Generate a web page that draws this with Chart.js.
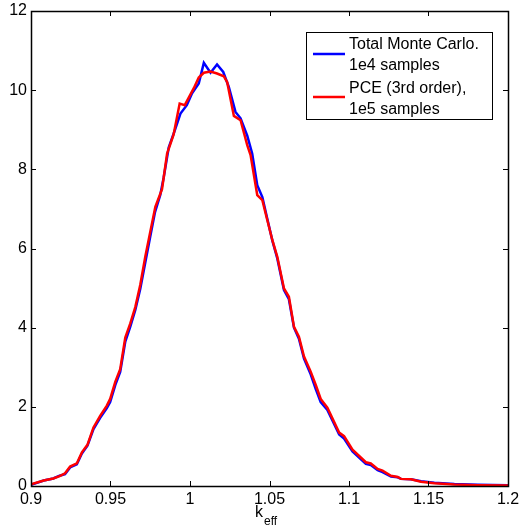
<!DOCTYPE html>
<html>
<head>
<meta charset="utf-8">
<script src="https://cdn.jsdelivr.net/npm/chart.js@4.4.0/dist/chart.umd.min.js"></script>
<style>
  html, body { margin: 0; padding: 0; background: #fff; }
  #wrap { width: 519px; height: 529px; }
</style>
</head>
<body>
<div id="wrap"><canvas id="myChart" width="519" height="529"></canvas></div>
<script>
// Total Monte Carlo, 1e4 samples
const mcX = [0.900, 0.908, 0.914, 0.918, 0.9214, 0.9246, 0.9288, 0.932, 0.9355, 0.9393,
  0.9435, 0.9477, 0.9498, 0.953, 0.9561, 0.9593, 0.9624, 0.9656, 0.9687, 0.9719,
  0.975, 0.978, 0.9813, 0.9834, 0.9866, 0.9897, 0.994, 0.998, 1.0013, 1.0055,
  1.0087, 1.0129, 1.017, 1.0209, 1.0244, 1.0286, 1.0318, 1.036, 1.0391, 1.0423,
  1.0455, 1.0486, 1.0518, 1.0549, 1.0591, 1.0622, 1.0654, 1.0685, 1.0717, 1.0759,
  1.0791, 1.0822, 1.0864, 1.0938, 1.0969, 1.1022, 1.1106, 1.1137, 1.118, 1.1211,
  1.1264, 1.1306, 1.1327, 1.139, 1.1453, 1.1537, 1.1663, 1.181, 1.200];
const mcY = [0.03, 0.14, 0.19, 0.26, 0.30, 0.47, 0.55, 0.82, 1.02, 1.44,
  1.72, 1.97, 2.12, 2.55, 2.88, 3.65, 4.02, 4.45, 4.98, 5.65,
  6.30, 6.92, 7.35, 7.78, 8.55, 8.90, 9.41, 9.62, 9.92, 10.17,
  10.69, 10.44, 10.65, 10.46, 10.08, 9.45, 9.29, 8.85, 8.40, 7.60,
  7.30, 6.75, 6.20, 5.75, 4.95, 4.72, 4.00, 3.72, 3.22, 2.82,
  2.45, 2.12, 1.92, 1.30, 1.20, 0.87, 0.56, 0.53, 0.40, 0.35,
  0.24, 0.22, 0.18, 0.17, 0.12, 0.08, 0.05, 0.03, 0.02];

// PCE (3rd order), 1e5 samples
const pceX = [0.900, 0.908, 0.914, 0.918, 0.9214, 0.9246, 0.9288, 0.932, 0.9355, 0.9393,
  0.9435, 0.9477, 0.9498, 0.953, 0.9561, 0.9593, 0.9624, 0.9656, 0.9687, 0.9719,
  0.975, 0.9782, 0.9824, 0.9856, 0.9897, 0.9935, 0.9967, 1.0024, 1.0055, 1.0087,
  1.0129, 1.017, 1.0213, 1.0234, 1.0276, 1.0318, 1.036, 1.0381, 1.0423, 1.0455,
  1.0486, 1.0518, 1.0549, 1.0591, 1.0622, 1.0654, 1.0685, 1.0717, 1.0759, 1.0791,
  1.0822, 1.0864, 1.0938, 1.0969, 1.1022, 1.1106, 1.1137, 1.118, 1.1211, 1.1264,
  1.1306, 1.1327, 1.139, 1.1453, 1.1537, 1.1663, 1.181, 1.200];
const pceY = [0.04, 0.14, 0.19, 0.25, 0.32, 0.49, 0.57, 0.85, 1.04, 1.48,
  1.77, 2.03, 2.20, 2.63, 2.95, 3.75, 4.10, 4.52, 5.08, 5.80,
  6.42, 7.05, 7.50, 8.40, 8.88, 9.66, 9.62, 10.05, 10.32, 10.44,
  10.47, 10.42, 10.35, 10.20, 9.35, 9.24, 8.61, 8.36, 7.35, 7.22,
  6.72, 6.21, 5.79, 4.99, 4.78, 4.02, 3.77, 3.27, 2.89, 2.55,
  2.20, 1.98, 1.35, 1.26, 0.92, 0.60, 0.57, 0.43, 0.39, 0.26,
  0.23, 0.18, 0.17, 0.11, 0.07, 0.04, 0.02, 0.01];

const xTicks = [0.9, 0.95, 1, 1.05, 1.1, 1.15, 1.2];
const yTicks = [0, 2, 4, 6, 8, 10, 12];
const legendLabels = [['Total Monte Carlo.', '1e4 samples'], ['PCE (3rd order),', '1e5 samples']];

const FONT = '"Liberation Sans", Arial, Helvetica, sans-serif';

function pts(xs, ys) {
  return xs.map((x, i) => ({ x: x, y: ys[i] }));
}

// box, inward ticks, legend and axis title (matlab look)
const decor = {
  id: 'decor',
  afterDraw(chart) {
    const ctx = chart.ctx;
    const a = chart.chartArea;
    const sx = chart.scales.x, sy = chart.scales.y;
    ctx.save();
    ctx.strokeStyle = '#000';
    ctx.lineWidth = 1;
    ctx.beginPath();
    xTicks.forEach(v => {
      const px = Math.round(sx.getPixelForValue(v)) + 0.5;
      ctx.moveTo(px, a.bottom); ctx.lineTo(px, a.bottom - 5);
      ctx.moveTo(px, a.top); ctx.lineTo(px, a.top + 5);
    });
    yTicks.forEach(v => {
      const py = Math.round(sy.getPixelForValue(v)) + 0.5;
      ctx.moveTo(a.left, py); ctx.lineTo(a.left + 5, py);
      ctx.moveTo(a.right, py); ctx.lineTo(a.right - 5, py);
    });
    ctx.stroke();
    ctx.lineWidth = 1.5;
    ctx.strokeRect(Math.round(a.left) + 0.5, Math.round(a.top) + 0.5,
      Math.round(a.right - a.left), Math.round(a.bottom - a.top));

    // legend
    const lx = 306, ly = 32, lw = 186, lh = 87;
    ctx.fillStyle = '#fff';
    ctx.fillRect(lx, ly, lw, lh);
    ctx.lineWidth = 1;
    ctx.strokeRect(lx + 0.5, ly + 0.5, lw, lh);
    ctx.font = '16px ' + FONT;
    ctx.textBaseline = 'middle';
    ctx.textAlign = 'left';
    const rows = [[45, 66, 54], [89, 110, 97]];
    chart.data.datasets.forEach((ds, i) => {
      ctx.strokeStyle = ds.borderColor;
      ctx.lineWidth = 2.5;
      ctx.beginPath();
      ctx.moveTo(313, rows[i][2]); ctx.lineTo(345, rows[i][2]);
      ctx.stroke();
      ctx.fillStyle = '#000';
      ctx.fillText(legendLabels[i][0], 349, rows[i][0]);
      ctx.fillText(legendLabels[i][1], 349, rows[i][1]);
    });

    // x axis title k_eff
    ctx.fillStyle = '#000';
    ctx.textBaseline = 'alphabetic';
    ctx.font = '16px ' + FONT;
    ctx.fillText('k', 255, 517);
    ctx.font = '12px ' + FONT;
    ctx.fillText('eff', 264, 525);
    ctx.restore();
  }
};

const config = {
  type: 'line',
  data: {
    datasets: [{
      label: legendLabels[0].join(' '),
      data: pts(mcX, mcY),
      borderColor: 'rgb(0, 0, 255)',
      backgroundColor: 'rgb(0, 0, 255)',
      borderWidth: 2.5,
      pointRadius: 0,
      tension: 0,
      order: 2
    }, {
      label: legendLabels[1].join(' '),
      data: pts(pceX, pceY),
      borderColor: 'rgb(255, 0, 0)',
      backgroundColor: 'rgb(255, 0, 0)',
      borderWidth: 2.5,
      pointRadius: 0,
      tension: 0,
      order: 1
    }]
  },
  options: {
    responsive: false,
    animation: false,
    layout: { padding: { left: 0, right: 11, top: 11, bottom: 0 } },
    plugins: { legend: { display: false }, tooltip: { enabled: false } },
    scales: {
      x: {
        type: 'linear',
        min: 0.9, max: 1.2,
        afterBuildTicks: s => { s.ticks = xTicks.map(v => ({ value: v })); },
        afterFit: s => { s.height = 43; s.paddingLeft = 0; s.paddingRight = 0; },
        grid: { display: false, drawTicks: false },
        border: { display: false },
        ticks: {
          color: '#000', padding: 4, maxRotation: 0,
          font: { family: FONT, size: 16 },
          callback: v => String(+v.toFixed(2))
        }
      },
      y: {
        min: 0, max: 12,
        afterBuildTicks: s => { s.ticks = yTicks.map(v => ({ value: v })); },
        afterFit: s => { s.width = 31; s.paddingTop = 0; s.paddingBottom = 0; },
        grid: { display: false, drawTicks: false },
        border: { display: false },
        ticks: {
          color: '#000', padding: 4,
          font: { family: FONT, size: 16 },
          callback: v => String(v)
        }
      }
    }
  },
  plugins: [decor]
};

const myChart = new Chart(document.getElementById('myChart'), config);
</script>
</body>
</html>
